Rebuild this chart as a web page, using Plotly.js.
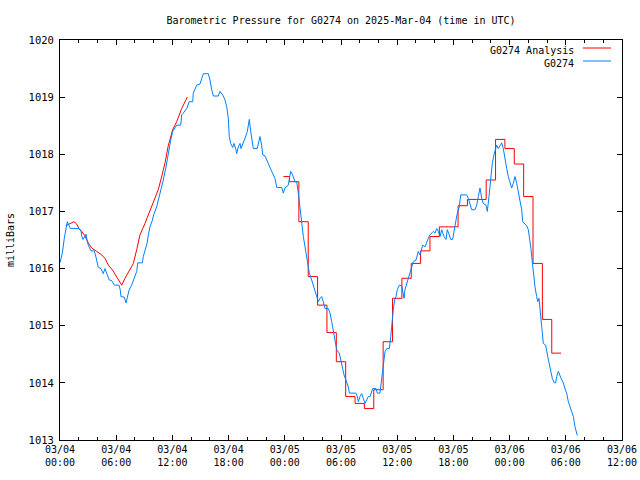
<!DOCTYPE html>
<html><head><meta charset="utf-8">
<script src="https://cdn.plot.ly/plotly-3.0.1.min.js"></script>
<style>body{margin:0;background:#fff}#chart{width:640px;height:480px}</style>
</head><body><div id="chart"></div>
<script>
// Observations (hours since 2025-03-04 00:00 UTC, millibars)
const obsHours = [0,0.25,0.46,0.61,0.78,0.89,1.10,2.03,2.24,2.32,2.46,2.67,2.78,2.88,3.02,3.31,3.66,3.81,3.95,4.09,4.38,4.52,4.62,4.80,4.99,5.26,5.52,5.80,6.30,6.44,6.51,6.86,7.05,7.23,7.37,7.65,7.93,8.19,8.30,8.79,8.89,9.07,9.29,9.43,9.61,9.85,10.00,10.32,10.68,11.03,11.32,11.56,11.82,12.03,12.46,12.89,12.99,13.16,13.53,13.80,14.17,14.23,14.41,14.59,14.95,15.13,15.30,15.83,16.01,16.20,16.37,16.90,17.08,17.37,17.62,17.80,17.97,18.07,18.22,18.44,18.58,18.79,18.86,19.04,19.22,19.32,19.57,19.75,20.00,20.21,20.36,20.47,20.64,21.06,21.35,21.53,21.64,21.89,22.07,22.35,22.60,22.95,23.14,23.67,23.84,24.02,24.37,24.63,24.84,25.09,25.27,25.44,25.55,25.70,25.87,25.98,26.16,26.34,26.51,26.62,26.87,27.04,27.22,27.41,27.58,27.76,27.94,28.11,28.29,28.64,28.83,29.01,29.18,29.36,29.54,29.82,29.97,30.18,30.32,30.53,30.78,30.89,31.60,31.74,31.85,32.03,32.21,32.38,32.56,32.74,32.91,33.10,33.28,33.38,33.74,33.88,34.16,34.34,34.52,34.70,34.88,35.16,35.31,35.41,35.58,35.76,35.87,36.01,36.22,36.48,36.59,36.73,36.83,37.01,37.18,37.37,37.55,37.72,38.01,38.15,38.25,38.43,38.62,38.72,38.96,39.14,39.32,39.50,39.68,39.85,40.04,40.22,40.39,40.57,40.75,41.00,41.21,41.35,41.56,41.71,41.92,42.06,42.28,42.42,42.63,42.78,43.42,43.59,43.77,43.95,44.30,44.49,44.66,44.84,45.02,45.19,45.48,45.62,45.80,46.01,46.15,46.37,46.62,46.79,46.98,47.16,47.33,47.51,47.69,47.86,48.04,48.22,48.39,48.58,48.76,48.93,49.11,49.29,49.40,49.82,50.00,50.18,50.28,50.36,50.53,50.71,50.89,51.00,51.14,51.25,51.43,51.60,51.85,52.07,52.21,52.42,52.56,52.77,52.92,53.03,53.20,53.49,53.73,53.91,54.09,54.27,54.45,54.63,54.81,54.98,55.16,55.23];
const obsPressure = [1016.10,1016.27,1016.53,1016.70,1016.82,1016.78,1016.70,1016.70,1016.66,1016.57,1016.51,1016.57,1016.60,1016.50,1016.41,1016.31,1016.31,1016.22,1016.12,1016.02,1016.00,1015.96,1015.91,1016.00,1015.92,1015.80,1015.79,1015.71,1015.71,1015.62,1015.51,1015.50,1015.40,1015.51,1015.62,1015.71,1015.83,1015.95,1016.10,1016.10,1016.21,1016.33,1016.44,1016.59,1016.73,1016.84,1016.94,1017.08,1017.30,1017.55,1017.78,1018.02,1018.25,1018.40,1018.51,1018.51,1018.69,1018.72,1018.80,1018.92,1018.92,1019.07,1019.15,1019.21,1019.23,1019.33,1019.41,1019.41,1019.30,1019.13,1019.02,1019.02,1019.10,1019.04,1018.95,1018.83,1018.63,1018.31,1018.19,1018.12,1018.19,1018.08,1018.01,1018.13,1018.19,1018.10,1018.19,1018.28,1018.40,1018.61,1018.40,1018.25,1018.10,1018.10,1018.31,1018.16,1017.99,1017.97,1017.90,1017.78,1017.70,1017.58,1017.42,1017.42,1017.32,1017.41,1017.46,1017.70,1017.64,1017.52,1017.52,1017.32,1017.14,1016.97,1016.73,1016.56,1016.38,1016.21,1016.06,1015.92,1015.80,1015.71,1015.63,1015.51,1015.42,1015.48,1015.51,1015.42,1015.30,1015.30,1015.22,1015.07,1014.90,1014.72,1014.58,1014.52,1014.40,1014.25,1014.14,1014.05,1013.93,1013.82,1013.82,1013.76,1013.67,1013.76,1013.81,1013.73,1013.64,1013.70,1013.76,1013.76,1013.88,1013.90,1013.90,1013.82,1013.82,1014.05,1014.34,1014.55,1014.60,1014.60,1014.81,1015.04,1015.28,1015.48,1015.51,1015.63,1015.71,1015.70,1015.57,1015.48,1015.63,1015.74,1015.83,1015.95,1016.03,1016.12,1016.15,1016.24,1016.30,1016.24,1016.35,1016.41,1016.38,1016.47,1016.53,1016.59,1016.62,1016.65,1016.62,1016.70,1016.65,1016.56,1016.68,1016.56,1016.51,1016.68,1016.59,1016.51,1016.51,1016.68,1016.85,1016.97,1017.08,1017.29,1017.29,1017.23,1017.11,1017.03,1017.03,1017.11,1017.26,1017.41,1017.23,1017.14,1017.11,1017.00,1017.26,1017.55,1017.84,1018.02,1018.16,1018.10,1018.16,1018.20,1018.10,1017.90,1017.75,1017.61,1017.49,1017.41,1017.49,1017.61,1017.49,1017.35,1017.20,1017.03,1016.82,1016.75,1016.68,1016.50,1016.35,1016.21,1015.92,1015.68,1015.51,1015.42,1015.48,1015.22,1014.98,1014.69,1014.66,1014.46,1014.34,1014.20,1014.08,1014.00,1014.00,1014.11,1014.20,1014.08,1014.00,1013.90,1013.82,1013.67,1013.58,1013.50,1013.41,1013.23,1013.12,1013.08];

// Analysis, first part (continuous)
const anaHoursA = [0.61,1.07,1.49,1.78,2.03,2.32,2.67,3.02,3.38,3.92,4.45,4.80,5.16,5.58,6.05,6.59,6.94,7.47,7.83,8.19,8.54,9.07,9.53,9.96,10.49,10.92,11.21,11.56,12.03,12.46,12.99,13.59];
const anaPressureA = [1016.75,1016.78,1016.82,1016.78,1016.70,1016.65,1016.57,1016.45,1016.36,1016.30,1016.24,1016.18,1016.06,1015.98,1015.86,1015.71,1015.83,1015.98,1016.09,1016.33,1016.59,1016.79,1016.97,1017.14,1017.38,1017.65,1017.85,1018.15,1018.43,1018.57,1018.80,1019.00];

// Analysis, second part (hourly steps)
const anaHoursB = [23.85,24.5,25.5,26.5,27.5,28.5,29.5,30.5,31.5,32.5,33.5,34.5,35.5,36.5,37.5,38.5,39.5,40.5,41.5,42.5,43.5,44.5,45.5,46.5,47.5,48.5,49.5,50.5,51.5,52.5,53.5];
const anaPressureB = [1017.61,1017.52,1016.82,1015.86,1015.36,1014.88,1014.37,1013.76,1013.64,1013.55,1013.88,1014.72,1015.48,1015.83,1016.09,1016.31,1016.56,1016.73,1016.73,1017.10,1017.21,1017.21,1017.55,1018.26,1018.10,1017.83,1017.26,1016.09,1015.11,1014.52,1014.52];

const xTickHours = [0,6,12,18,24,30,36,42,48,54,60];
const xTickText = ['03/04<br>00:00','03/04<br>06:00','03/04<br>12:00','03/04<br>18:00','03/05<br>00:00','03/05<br>06:00','03/05<br>12:00','03/05<br>18:00','03/06<br>00:00','03/06<br>06:00','03/06<br>12:00'];
const yTickVals = [1013,1014,1015,1016,1017,1018,1019,1020];
const seriesNames = ['G0274 Analysis','G0274'];

const RED = 'rgb(255,0,0)';
const BLUE = 'rgb(0,128,255)';
const FONT = 'DejaVu Sans Mono, Liberation Mono, monospace';

const traces = [
  {x: anaHoursA, y: anaPressureA, type:'scatter', mode:'lines', name: seriesNames[0],
   line:{color:RED, width:1}, showlegend:false, hoverinfo:'skip'},
  {x: anaHoursB, y: anaPressureB, type:'scatter', mode:'lines', name: seriesNames[0],
   line:{color:RED, width:1, shape:'hv'}, showlegend:false, hoverinfo:'skip'},
  {x: obsHours, y: obsPressure, type:'scatter', mode:'lines', name: seriesNames[1],
   line:{color:BLUE, width:1}, showlegend:false, hoverinfo:'skip'}
];

const L = 60, R = 18, T = 40, B = 40;
const pw = 640 - L - R, ph = 480 - T - B;
const px = v => (v - L) / pw;          // pixel -> paper x
const py = v => (480 - B - v) / ph;    // pixel -> paper y

const layout = {
  width: 640, height: 480,
  margin: {l: L, r: R, t: T, b: B, pad: 0},
  paper_bgcolor: '#fff', plot_bgcolor: '#fff',
  font: {family: FONT, size: 10, color: '#000'},
  showlegend: false,
  title: {text: 'Barometric Pressure for G0274 on 2025-Mar-04 (time in UTC)',
          font: {family: FONT, size: 10, color:'#000'},
          x: 0.5, xref: 'paper', y: 1 - 20/480, yref: 'container', yanchor: 'middle'},
  xaxis: {range: [0, 60], tickmode: 'array', tickvals: xTickHours, ticktext: xTickText,
          ticks: 'inside', ticklen: 5, tickwidth: 1, tickcolor: '#000',
          showline: true, linecolor: '#000', linewidth: 1, mirror: 'ticks',
          showgrid: false, zeroline: false, fixedrange: true,
          minor: {tick0: 0, dtick: 2, ticks: 'inside', ticklen: 3, tickcolor: '#000', showgrid: false},
          tickfont: {family: FONT, size: 10, color: '#000'}},
  yaxis: {range: [1013, 1020], tickmode: 'array', tickvals: yTickVals,
          ticks: 'inside', ticklen: 5, tickwidth: 1, tickcolor: '#000',
          showline: true, linecolor: '#000', linewidth: 1, mirror: 'ticks',
          showgrid: false, zeroline: false, fixedrange: true, ticklabelstandoff: 3,
          tickfont: {family: FONT, size: 10.5, color: '#000'},
          title: {text: 'milliBars', font: {family: FONT, size: 10, color: '#000'}, standoff: 12}},
  annotations: [
    {xref:'paper', yref:'paper', x: px(576), y: py(50), xanchor:'right', yanchor:'middle',
     text: seriesNames[0], showarrow:false, font:{family:FONT, size:10, color:'#000'}},
    {xref:'paper', yref:'paper', x: px(576), y: py(63), xanchor:'right', yanchor:'middle',
     text: seriesNames[1], showarrow:false, font:{family:FONT, size:10, color:'#000'}}
  ],
  shapes: [
    {type:'line', xref:'paper', yref:'paper', x0: px(583), x1: px(611), y0: py(48), y1: py(48), line:{color:RED, width:1}},
    {type:'line', xref:'paper', yref:'paper', x0: px(583), x1: px(611), y0: py(61), y1: py(61), line:{color:BLUE, width:1}}
  ]
};

Plotly.newPlot('chart', traces, layout, {displayModeBar: false, staticPlot: true});
</script>
</body></html>
